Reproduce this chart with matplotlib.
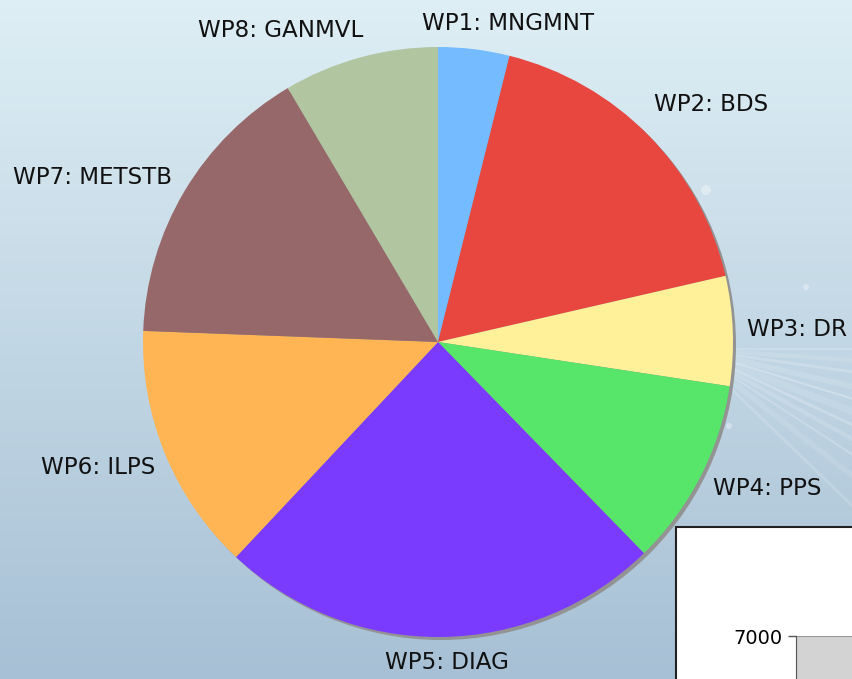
import numpy as np
import matplotlib
matplotlib.use('Agg')
import matplotlib.pyplot as plt
from matplotlib.patches import Circle, Rectangle

plt.rcParams['font.family'] = ['DejaVu Sans']

# 工作包占比（%）
wp_labels = ['WP1: MNGMNT', 'WP2: BDS', 'WP3: DR', 'WP4: PPS',
             'WP5: DIAG', 'WP6: ILPS', 'WP7: METSTB', 'WP8: GANMVL']
wp_share = [3.9, 17.5, 6.0, 10.3, 24.3, 13.6, 15.9, 8.5]
wp_colors = ['#74bbff', '#e8473f', '#fff09a', '#57e56a',
             '#7b3bff', '#ffb554', '#976869', '#b1c6a0']

# 右下角第二个图（只露出一角）
bar_ticks = [7000]
bar_values = [7000]

W, H = 852, 679
fig = plt.figure(figsize=(W / 100, H / 100), dpi=100)
ax = fig.add_axes([0, 0, 1, 1])

# 背景渐变
grad = np.linspace(0, 1, 256)[:, None]
top = np.array([0.870, 0.935, 0.960])
bot = np.array([0.655, 0.753, 0.835])
img = top[None, None, :] * (1 - grad[:, :, None]) + bot[None, None, :] * grad[:, :, None]
ax.imshow(img, extent=(0, W, 0, H), aspect='auto', zorder=0)

# 右侧光线（从饼图后方向右下散开）
src = np.array([690.0, 330.0])
for ang, lw, a in [(-8, 2, 0.18), (-13, 4, 0.12), (-17, 1.5, 0.25), (-21, 5, 0.10),
                   (-25, 2, 0.22), (-29, 3, 0.15), (-33, 1.5, 0.2), (-38, 4, 0.1),
                   (-44, 2, 0.15), (-4, 3, 0.1), (0, 1.5, 0.15)]:
    t = np.deg2rad(ang)
    ax.plot([src[0], src[0] + 300 * np.cos(t)], [src[1], src[1] + 300 * np.sin(t)],
            color='white', lw=lw, alpha=a, solid_capstyle='round', zorder=1)
for (bx, by, br) in [(706, 489, 5), (806, 392, 3), (729, 253, 3)]:
    ax.add_patch(Circle((bx, by), br, color='white', alpha=0.35, lw=0, zorder=1))

cx, cy, r = 438, H - 342, 295

# 阴影
ax.add_patch(Circle((cx + 3, cy - 3), r, color='#939393', lw=0, zorder=2))

wedges, _ = ax.pie(wp_share, colors=wp_colors, startangle=90, counterclock=False,
                   center=(cx, cy), radius=r, wedgeprops=dict(linewidth=0))
for w in wedges:
    w.set_zorder(3)

# 标签：沿扇区中线放在圆外
nudge = {0: (22, 0), 1: (12, 13), 3: (6, 0), 4: (5, 0), 5: (-1, -4), 6: (-12, 0), 7: (-54, 2)}
renderer = fig.canvas.get_renderer()
gap = 14
for i, (w, lab) in enumerate(zip(wedges, wp_labels)):
    mid = np.deg2rad((w.theta1 + w.theta2) / 2)
    ux, uy = np.cos(mid), np.sin(mid)
    txt = ax.text(0, 0, lab, fontsize=16.6, ha='center', va='center', color='#111111', zorder=5)
    bb = txt.get_window_extent(renderer)
    tw, th = bb.width, bb.height
    dx, dy = nudge.get(i, (0, 0))
    txt.set_position((cx + (r + gap) * ux + tw / 2 * ux + dx,
                      cy + (r + gap) * uy + th / 2 * uy + dy))

ax.set_xlim(0, W)
ax.set_ylim(0, H)
ax.set_aspect('auto')
ax.axis('off')

# 第二个图的白色框
ax.add_patch(Rectangle((676, -10), 300, H - 527 + 10, facecolor='white',
                       edgecolor='#222222', lw=1.5, zorder=4))

ax2 = fig.add_axes([796 / W, -0.5, 0.2, 0.5 + (H - 636) / H])
ax2.bar([0], bar_values, width=1.0, color='#d3d3d3', edgecolor='#999999', lw=1.5, align='edge')
ax2.set_xlim(0, 2)
ax2.set_ylim(0, 7000)
ax2.set_yticks(bar_ticks)
ax2.set_yticklabels([f'{v}' for v in bar_ticks], fontsize=14)
ax2.set_xticks([])
ax2.tick_params(axis='y', length=6, width=1, color='#555555')
for s in ['top', 'right', 'bottom']:
    ax2.spines[s].set_visible(False)
ax2.spines['left'].set_color('#555555')
ax2.patch.set_alpha(0)

fig.savefig('out.png', dpi=100)
